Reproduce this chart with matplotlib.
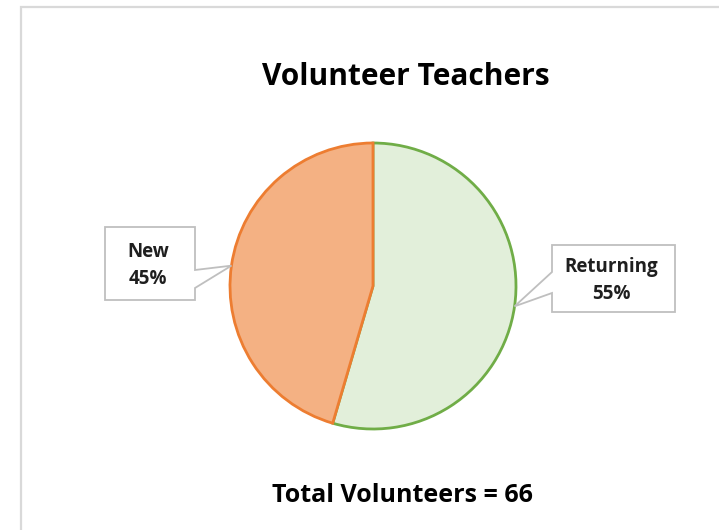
import matplotlib
matplotlib.use('Agg')

import numpy as np
import matplotlib.pyplot as plt
from matplotlib.patches import Polygon, Rectangle

# -------------------------
# Data
# -------------------------
title = 'Volunteer Teachers'
labels = ['Returning', 'New']
counts = [36, 30]
fills = ['#e2efda', '#f4b183']
edges = ['#70ad47', '#ed7d31']
footer = f'Total Volunteers = {sum(counts)}'

# -------------------------
# Figure: one axes in pixel units (y up)
# -------------------------
W, H = 719, 530
fig = plt.figure(figsize=(W / 100, H / 100), dpi=100)
ax = fig.add_axes([0, 0, 1, 1])

plt.rcParams['font.family'] = ['Open Sans', 'DejaVu Sans']

# chart area border (only top/left visible)
ax.add_patch(Rectangle((21, -10), W + 20, H - 7 + 10, fill=False,
                       ec='#d9d9d9', lw=1.6))

cx, cy, r = 373, 244, 143
wedges, _ = ax.pie(counts, colors=fills, startangle=90, counterclock=False,
                   center=(cx, cy), radius=r, frame=True,
                   wedgeprops=dict(linewidth=2.0))
for w, ec in zip(wedges, edges):
    w.set_edgecolor(ec)
ax.set_xlim(0, W)
ax.set_ylim(0, H)
ax.axis('off')

# -------------------------
# Callout labels
# -------------------------
total = sum(counts)
# box: (left, right, bottom, top) and pointer base (y0, y1) on the box side
boxes = {
    'Returning': dict(box=(552, 675, 218, 285), base=(237, 258), side='left'),
    'New': dict(box=(105, 195, 230, 303), base=(242, 260), side='right'),
}
for w, lab, n in zip(wedges, labels, counts):
    mid = np.deg2rad((w.theta1 + w.theta2) / 2)
    tx, ty = cx + r * np.cos(mid), cy + r * np.sin(mid)
    b = boxes[lab]
    x0, x1, y0, y1 = b['box']
    p0, p1 = b['base']
    if b['side'] == 'left':
        pts = [(x0, y1), (x1, y1), (x1, y0), (x0, y0), (x0, p0), (tx, ty), (x0, p1)]
    else:
        pts = [(x0, y1), (x1, y1), (x1, p1), (tx, ty), (x1, p0), (x1, y0), (x0, y0)]
    ax.add_patch(Polygon(pts, closed=True, fc='white', ec='#bfbfbf', lw=1.3, zorder=5))
    ax.text((x0 + x1) / 2 - 2, (y0 + y1) / 2 - 2, f'{lab}\n{round(100 * n / total)}%',
            ha='center', va='center', fontsize=13.5, fontweight='bold',
            color='#1f1f1f', linespacing=1.5, zorder=6)

# -------------------------
# Title and footer
# -------------------------
ax.text(406, H - 77, title, ha='center', va='center', fontsize=21.5,
        fontweight='bold', color='black')
ax.text(402, H - 495, footer, ha='center', va='center', fontsize=18,
        fontweight='bold', color='black')

fig.savefig('out.png', dpi=100)
plt.close()
